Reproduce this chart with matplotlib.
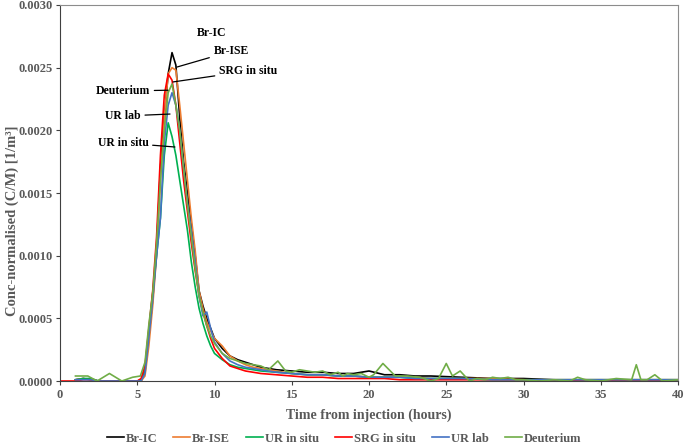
import numpy as np
import matplotlib
matplotlib.use("Agg")
import matplotlib.pyplot as plt

nan = np.nan

# common sampling times for the sensor series (hours)
hours = [0, 1, 1.5, 2, 2.5, 3, 3.5, 4, 4.5, 5,
         5.25, 5.5, 5.75, 6, 6.25, 6.5, 6.75, 7, 7.25, 7.5,
         7.75, 8, 8.25, 8.5, 8.75, 9, 9.25, 9.5, 9.75, 10,
         10.5, 11, 11.5, 12, 12.5, 13, 14, 15, 16, 17,
         18, 19, 20, 21, 22, 23, 24, 26, 28, 30,
         32, 34, 36, 38, 40]

br_ic = [nan, 0.00001, 0.00002, 0.00001, 0, 0, 0, 0, 0, 0,
         0, 0.00008, 0.00035, 0.00065, 0.00105, 0.0017, 0.0021, 0.00245, 0.00262, 0.00252,
         0.0021, 0.00175, 0.0015, 0.00125, 0.001, 0.00072, 0.0006, 0.0005, 0.00042, 0.00034,
         0.00026, 0.0002, 0.00017, 0.00015, 0.00013, 0.00011, 0.00009, 0.00008, 0.00007, 0.00007,
         0.00006, 0.00006, 0.00008, 0.00005, 0.00005, 0.00004, 0.00004, 0.00003, 0.00002, 0.00002,
         0.00001, 0.00001, 0.00001, 0.00001, 0.00001]

br_ise = [nan, 0.00001, 0.00002, 0.00001, 0, 0, 0, 0, 0, 0,
          0, 0.00004, 0.00028, 0.0006, 0.001, 0.0016, 0.0021, 0.00245, 0.0025, 0.00248,
          0.0022, 0.0019, 0.0016, 0.0013, 0.00104, 0.00072, 0.00058, 0.00047, 0.0004, 0.00034,
          0.00028, 0.0002, 0.00016, 0.00013, 0.00011, 0.0001, 0.00008, 0.00006, 0.00005, 0.00005,
          0.00004, 0.00004, 0.00003, 0.00003, 0.00003, 0.00003, 0.00002, 0.00002, 0.00002, 0.00001,
          0.00001, 0.00001, 0.00001, 0.00001, 0.00001]

ur_insitu = [nan, 0.00001, 0.00002, 0.00002, 0, 0, 0, 0, 0, 0,
             0.00001, 0.0001, 0.0004, 0.0007, 0.001, 0.0013, 0.0018, 0.00206, 0.00195, 0.0018,
             0.0016, 0.0014, 0.0012, 0.00095, 0.00075, 0.00058, 0.00046, 0.00036, 0.00028, 0.00022,
             0.00017, 0.00013, 0.00011, 0.0001, 0.00009, 0.00008, 0.00007, 0.00006, 0.00005, 0.00005,
             0.00004, 0.00004, 0.00003, 0.00003, 0.00003, 0.00002, 0.00002, 0.00002, 0.00001, 0.00001,
             0.00001, 0.00001, 0.00001, 0.00001, 0.00001]

srg_insitu = [0, 0, 0.00001, 0.00001, 0, 0, 0, 0, 0, 0,
              0.00002, 0.00012, 0.00042, 0.00072, 0.00115, 0.0018, 0.00228, 0.00245, 0.0024, 0.0022,
              0.0019, 0.0016, 0.00135, 0.0011, 0.00088, 0.00068, 0.00055, 0.00044, 0.00034, 0.00026,
              0.00018, 0.00012, 0.0001, 0.00008, 0.00007, 0.00006, 0.00005, 0.00004, 0.00003, 0.00003,
              0.00002, 0.00002, 0.00002, 0.00002, 0.00001, 0.00001, 0.00001, 0.00001, 0.00001, 0.00001,
              0, 0.00001, 0, 0, 0]

ur_lab = [nan, 0.00001, 0.00001, 0.00001, 0, 0, 0, 0, 0, 0,
          0, 0.00006, 0.00035, 0.00065, 0.001, 0.0013, 0.0019, 0.0022, 0.0023, 0.0022,
          0.002, 0.0017, 0.00142, 0.0012, 0.00095, 0.00068, 0.00052, 0.00055, 0.00042, 0.00031,
          0.00022, 0.00016, 0.00013, 0.00011, 0.0001, 0.00009, 0.00007, 0.00006, 0.00005, 0.00005,
          0.00004, 0.00004, 0.00003, 0.00003, 0.00003, 0.00002, 0.00002, 0.00002, 0.00001, 0.00001,
          0.00001, 0.00001, 0.00001, 0.00001, 0.00001]

# deuterium was sampled on its own schedule
deut_hours = [1, 1.8, 2.4, 3.2, 4.0, 4.7, 5.2, 5.5, 5.75, 6.0,
              6.25, 6.5, 6.75, 7.0, 7.25, 7.5, 7.75, 8.0, 8.25, 8.5,
              8.75, 9.0, 9.25, 9.5, 9.75, 10.0, 10.5, 11, 11.5, 12,
              12.5, 13, 13.5, 14.1, 14.6, 15, 15.5, 16, 16.5, 17,
              17.5, 18, 18.3, 18.6, 19, 19.5, 20, 20.3, 20.9, 21.7,
              22.5, 23.3, 24, 24.5, 25, 25.4, 25.9, 26.5, 27, 27.5,
              28, 28.5, 29, 29.5, 30, 31, 32, 33, 33.5, 34,
              35, 36, 37, 37.3, 37.6, 38, 38.5, 39, 40]

deuterium = [0.00004, 0.00004, 0, 0.00006, 0, 0.00003, 0.00004, 0.00015, 0.00045, 0.0007,
             0.0011, 0.0016, 0.002, 0.0023, 0.00237, 0.0022, 0.002, 0.0017, 0.0014, 0.00115,
             0.0009, 0.00068, 0.00055, 0.00044, 0.00036, 0.0003, 0.00022, 0.00018, 0.00016, 0.00014,
             0.00013, 0.00012, 0.00009, 0.00016, 0.00008, 0.00007, 0.00009, 0.00008, 0.00007, 0.00008,
             0.00005, 0.00007, 0.00004, 0.00006, 0.00005, 0.00006, 0.00003, 0.00005, 0.00014, 0.00004,
             0.00004, 0.00003, 0, 0.00002, 0.00014, 0.00004, 0.00008, 0, 0.00002, 0.00001,
             0.00003, 0.00002, 0.00003, 0.00001, 0.00001, 0, 0.00001, 0, 0.00003, 0.00001,
             0, 0.00002, 0.00001, 0.00013, 0.00001, 0.00001, 0.00005, 0, 0.00001]

series_names = ["Br-IC", "Br-ISE", "UR in situ", "SRG in situ", "UR lab", "Deuterium"]
series_colors = ["#000000", "#ED7D31", "#00B050", "#FF0000", "#4472C4", "#70AD47"]

plt.rcParams['font.family'] = ['Liberation Serif', 'DejaVu Serif']
plt.rcParams['font.weight'] = 'bold'
text_col = "#595959"

fig = plt.figure(figsize=(6.85, 4.46), dpi=100)
ax = fig.add_axes([0.0876, 0.1457, 0.9022, 0.8431])

xs = [hours, hours, hours, hours, hours, deut_hours]
ys = [br_ic, br_ise, ur_insitu, srg_insitu, ur_lab, deuterium]
for x, y, name, col in zip(xs, ys, series_names, series_colors):
    ax.plot(x, y, color=col, lw=1.2, label=name)

ax.set_xlim(0, 40)
ax.set_ylim(0, 0.003)
ax.set_xticks(np.arange(0, 41, 5))
ax.set_yticks(np.arange(0, 0.00301, 0.0005))
ax.yaxis.set_major_formatter(matplotlib.ticker.FormatStrFormatter('%.4f'))
ax.tick_params(direction='out', length=3, width=0.8, pad=2.5, labelsize=9,
               colors='#404040', labelcolor=text_col)
for s in ['left', 'bottom']:
    ax.spines[s].set_color('#404040')
for s in ['top', 'right']:
    ax.spines[s].set_color('#8c8c8c')

ax.set_xlabel("Time from injection (hours)", fontsize=10, fontweight='bold', color=text_col)
ax.set_ylabel("Conc-normalised (C/M) [1/m³]", fontsize=10.5, fontweight='bold', color=text_col)
ax.xaxis.set_label_coords(0.5, -0.072)
ax.yaxis.set_label_coords(-0.066, 0.425)

# peak labels
lab_kw = dict(fontsize=8.5, fontweight='bold', color='black', ha='center', va='center')
line_kw = dict(arrowstyle='-', color='black', lw=0.9, shrinkA=1, shrinkB=0)
ax.text(9.84, 0.00278, "Br-IC", **lab_kw)
ax.annotate("Br-ISE", xy=(7.57, 0.002505), xytext=(11.07, 0.00263), arrowprops=line_kw, **lab_kw)
ax.annotate("SRG in situ", xy=(7.31, 0.002386), xytext=(12.17, 0.002473), arrowprops=line_kw, **lab_kw)
ax.annotate("Deuterium", xy=(6.99, 0.00232), xytext=(4.08, 0.002314), arrowprops=line_kw, **lab_kw)
ax.annotate("UR lab", xy=(7.12, 0.00213), xytext=(4.08, 0.002114), arrowprops=line_kw, **lab_kw)
ax.annotate("UR in situ", xy=(7.44, 0.001867), xytext=(4.08, 0.0019), arrowprops=line_kw, **lab_kw)

leg = fig.legend(loc='lower center', bbox_to_anchor=(0.502, -0.022), ncol=6, frameon=False,
                 fontsize=9, handlelength=1.35, handletextpad=0.15, columnspacing=1.3)
for t in leg.get_texts():
    t.set_color(text_col)

fig.savefig("out.png", dpi=100)
